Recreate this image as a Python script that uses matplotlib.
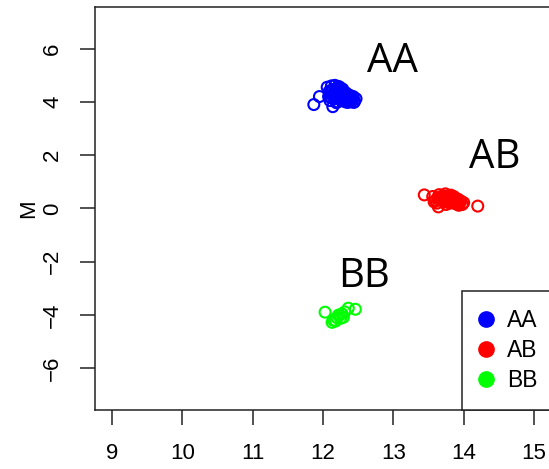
import matplotlib
matplotlib.use("Agg")
import matplotlib.pyplot as plt
from matplotlib.lines import Line2D

# Genotype clusters: A-allele intensity (x) vs. log-ratio M (y)
genotypes = ["AA", "AB", "BB"]
colors = {"AA": "#0000FF", "AB": "#FF0000", "BB": "#00FF00"}

aa_x = [11.87, 11.95, 12.14, 12.06, 12.09, 12.12, 12.15, 12.18, 12.20, 12.22,
        12.25, 12.28, 12.30, 12.33, 12.36, 12.39, 12.42, 12.45, 12.47, 12.10,
        12.16, 12.21, 12.26, 12.31, 12.35, 12.24, 12.19, 12.29, 12.34, 12.13,
        12.23, 12.27, 12.32, 12.08, 12.17, 12.40, 12.38, 12.44, 12.11, 12.14,
        12.18, 12.21, 12.24, 12.27, 12.30, 12.33, 12.37, 12.41, 12.19, 12.23,
        12.26, 12.29, 12.32, 12.36, 12.16, 12.20, 12.25, 12.28, 12.34, 12.39,
        12.43, 12.12, 12.22, 12.31]
aa_y = [3.90, 4.20, 3.82, 4.55, 4.40, 4.60, 4.30, 4.50, 4.25, 4.45,
        4.35, 4.25, 4.10, 4.05, 4.20, 4.00, 4.10, 4.02, 4.12, 4.05,
        4.15, 4.00, 4.10, 4.30, 3.98, 4.55, 3.97, 4.40, 4.15, 4.25,
        4.32, 4.05, 4.00, 4.20, 4.62, 4.15, 4.25, 3.98, 4.35, 4.45,
        4.38, 4.52, 4.42, 4.33, 4.28, 4.22, 4.08, 4.05, 4.12, 4.18,
        4.20, 4.12, 4.35, 4.10, 4.22, 4.30, 4.08, 4.48, 4.30, 4.05,
        4.20, 4.15, 4.58, 4.18]

ab_x = [13.44, 13.64, 14.20, 13.56, 13.60, 13.65, 13.70, 13.74, 13.78, 13.82,
        13.86, 13.90, 13.94, 13.98, 13.62, 13.68, 13.72, 13.76, 13.80, 13.84,
        13.88, 13.92, 13.96, 13.58, 13.75, 13.85, 13.66, 13.79, 13.71, 13.77,
        13.83, 13.89, 13.93, 13.67, 13.73, 13.81, 13.87, 14.00, 13.63, 13.91]
ab_y = [0.51, 0.06, 0.09, 0.45, 0.30, 0.52, 0.40, 0.55, 0.35, 0.50,
        0.45, 0.30, 0.20, 0.15, 0.20, 0.45, 0.25, 0.40, 0.20, 0.30,
        0.18, 0.35, 0.28, 0.25, 0.15, 0.38, 0.32, 0.48, 0.33, 0.28,
        0.42, 0.25, 0.12, 0.38, 0.47, 0.25, 0.33, 0.22, 0.40, 0.18]

bb_x = [12.03, 12.36, 12.46, 12.15, 12.25, 12.13, 12.29, 12.22, 12.18, 12.31,
        12.20, 12.27]
bb_y = [-3.89, -3.74, -3.78, -4.19, -4.12, -4.27, -4.08, -4.00, -4.22, -3.88,
        -4.10, -3.95]

cluster_x = {"AA": aa_x, "AB": ab_x, "BB": bb_x}
cluster_y = {"AA": aa_y, "AB": ab_y, "BB": bb_y}

# Cluster name annotations (left edge, baseline) in data units
label_pos = {"AA": (12.63, 5.13), "AB": (14.07, 1.52), "BB": (12.22, -2.95)}

x_ticks = [9, 10, 11, 12, 13, 14, 15]
y_ticks = [-6, -4, -2, 0, 2, 4, 6]
y_label = "M"

plt.rcParams["font.family"] = ["Liberation Sans", "DejaVu Sans"]

fig = plt.figure(figsize=(5.49, 4.69), dpi=100)
ax = fig.add_axes([95 / 549, 59 / 469, 455 / 549, 403 / 469])

for g in genotypes:
    ax.scatter(cluster_x[g], cluster_y[g], s=62, facecolors="none",
               edgecolors=colors[g], linewidths=1.5, zorder=3)

for g in genotypes:
    lx, ly = label_pos[g]
    ax.text(lx, ly, g, fontsize=29, family=["Open Sans", "DejaVu Sans"],
            ha="left", va="baseline", color="black")

ax.set_xlim(8.76, 15.227)
ax.set_ylim(-7.56, 7.56)
ax.set_xticks(x_ticks)
ax.set_xticklabels([str(t) for t in x_ticks])
ax.set_yticks(y_ticks)
ax.set_yticklabels([f"{t}".replace("-", "\u2212") for t in y_ticks],
                   rotation=90, va="center")

ax.tick_params(axis="both", direction="out", length=11, width=1.1,
               labelsize=16, color="#222222")
ax.tick_params(axis="x", pad=13)
ax.tick_params(axis="y", pad=12)

ax.set_ylabel(y_label, fontsize=16)
ax.yaxis.set_label_coords(-0.122, 0.5)

for side in ["left", "bottom", "top", "right"]:
    ax.spines[side].set_linewidth(1.1)
    ax.spines[side].set_color("#222222")

handles = [Line2D([], [], marker="o", linestyle="none", markersize=11,
                  markerfacecolor=colors[g], markeredgecolor=colors[g])
           for g in genotypes]
leg = ax.legend(handles, genotypes, loc="lower right", bbox_to_anchor=(1.012, 0.0),
                borderaxespad=0.0, fontsize=16.5, frameon=True, fancybox=False,
                borderpad=0.8, handlelength=0.5, handletextpad=0.65,
                labelspacing=0.3)
frame = leg.get_frame()
frame.set_edgecolor("#222222")
frame.set_linewidth(1.1)
frame.set_alpha(1.0)

fig.savefig("out.png", dpi=100)
